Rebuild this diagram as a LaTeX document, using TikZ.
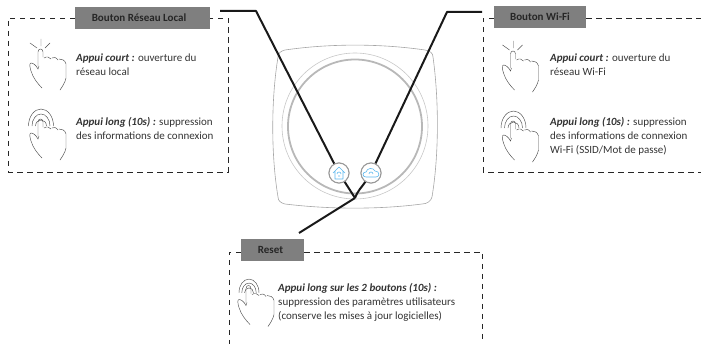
\documentclass[tikz,border=0pt]{standalone}
\usepackage{fontspec}
\setmainfont{Carlito}
\usetikzlibrary{calc}
\definecolor{bandgray}{HTML}{7F7F7F}
\definecolor{icoblue}{HTML}{5BB8EE}
\tikzset{
  frame/.style={draw=black!85,line width=0.7pt,dash pattern=on 5.5pt off 4.5pt},
  band/.style={fill=bandgray,draw=none,minimum height=22pt,inner sep=0pt,font=\bfseries\fontsize{11}{13}\selectfont,text=black!85},
  desc/.style={align=left,anchor=north west,inner sep=0pt,font=\fontsize{11}{14}\selectfont,text=black!80},
  lead/.style={draw=black!90,line width=2pt,line join=round},
  dev/.style={draw=black!35,line width=0.6pt},
  btn/.style={circle,draw=black!40,fill=white,line width=1pt,minimum size=20pt,inner sep=0pt},
  hnd/.style={draw=black!70,line width=0.45pt,line cap=round},
  pics/hand/.style={code={
    \draw[hnd] (-3,9) -- (-3,-5) .. controls (-3,-9) and (2,-9) .. (2,-5) -- (2,0);
    \draw[hnd] (3,1) .. controls (6,-1) and (8,0) .. (10,2) (11,1) .. controls (13,0) and (15,0) .. (17,3) (18,2) .. controls (21,2) and (24,3) .. (25,7) -- (25,21) .. controls (24,26) and (21,30) .. (19,33);
    \draw[hnd] (-2,9) -- (-3,12) .. controls (-5,8) and (-8,6) .. (-10,6) .. controls (-12,6) and (-11,11) .. (-10,14) .. controls (-8,21) and (-3,27) .. (1,31);
  }},
  pics/tap/.style={code={
    \draw[hnd] (0,-11) -- (0,-18) (-4,-9) -- (-11,-14) (4,-9) -- (9,-14);
    \pic {hand};
  }},
  pics/press/.style={code={
    \foreach \rx/\ry in {5.5/6,9/12,12.5/17}{\draw[hnd] (-\rx,-1) arc[start angle=-180,end angle=0,x radius=\rx,y radius=\ry];}
    \pic {hand};
  }}
}
\begin{document}
\begin{tikzpicture}[x=1pt,y=-1pt]
\useasboundingbox (0,0) rectangle (701,344);
% device
\draw[dev] (285,50) .. controls (330,43.5) and (380,43.5) .. (425,50) .. controls (430,51) and (433,53) .. (433,57)
  .. controls (439,100) and (439,155) .. (432,197) .. controls (431,201) and (427,204) .. (422,204)
  .. controls (380,209.5) and (330,209.5) .. (285,204) .. controls (281,203) and (278,201) .. (278,197)
  .. controls (271,155) and (271,100) .. (278,57) .. controls (278,53) and (281,51) .. (285,50) -- cycle;
\node[circle,draw=black!22,line width=0.6pt,minimum size=146pt,inner sep=0pt] (outerring) at (355,126) {};
\node[circle,draw=black!28,line width=1.8pt,minimum size=134pt,inner sep=0pt] (innerring) at (355,126.5) {};
% leaders
\coordinate (lstart) at (220,11);
\coordinate (lbend) at (256,11);
\coordinate (rstart) at (482,12);
\coordinate (rbend) at (447,12);
\coordinate (join) at (355,198);
\coordinate (rsend) at (299,233);
\node[btn] (bhome) at (339,173) {};
\node[btn] (bwifi) at (371,173) {};
\draw[lead] (lstart) -- (lbend) -- (bhome);
\draw[lead] (rstart) -- (rbend) -- (bwifi);
\draw[lead] (bhome) -- (join);
\draw[lead] (bwifi) .. controls (362,187) and (358,190) .. (join);
\draw[lead] (join) -- (rsend);
\node[btn] at (bhome) {};
\node[btn] at (bwifi) {};
% button icons
\draw[icoblue,line width=0.6pt,line join=round] (333,173) -- (339,167) -- (345,173) (335,171) -- (335,179) -- (343,179) -- (343,171);
\draw[icoblue,line width=0.6pt] (337,174) arc[start angle=-180,end angle=0,radius=2] (338,176) -- (340,176);
\draw[icoblue,line width=0.6pt] (366,177) .. controls (362,177) and (362,172) .. (366,172) .. controls (367,168) and (373,167) .. (375,171) .. controls (380,171) and (380,177) .. (376,177) -- cycle;
\draw[icoblue,line width=0.6pt] (369,174) arc[start angle=-180,end angle=0,radius=2];
% frames
\draw[frame] (75,18) -- (8,18) -- (8,172) -- (228,172) -- (228,18) -- (210,18);
\draw[frame] (494,18) -- (483,18) -- (483,172) -- (701,172);
\draw[frame] (586,18) -- (701,18);
\draw[frame] (241,252) -- (229,252) -- (229,344);
\draw[frame] (304,252) -- (482,252) -- (482,344);
\node[band,minimum width=135pt] (tl) at (142.5,18) {\hspace*{-7pt}Bouton Réseau Local};
\node[band,minimum width=92pt] (tr) at (540,17) {Bouton Wi-Fi};
\node[band,minimum width=63pt] (tb) at (272.5,250) {\hspace*{-4pt}Reset};
% hands
\pic at (41,57) {tap};
\pic at (41,127) {press};
\pic at (513.5,59) {tap};
\pic at (513.5,129) {press};
\pic[scale=0.8] at (249,293.5) {press};
% text
\node[desc] (t1) at (76,53.5) {\textbf{\textit{Appui court :}} ouverture du\\réseau local};
\node[desc] (t2) at (76,117) {\textbf{\textit{Appui long (10s) :}} suppression\\des informations de connexion};
\node[desc] (t3) at (550,53.5) {\textbf{\textit{Appui court :}} ouverture du\\réseau Wi-Fi};
\node[desc] (t4) at (550,117) {\textbf{\textit{Appui long (10s) :}} suppression\\des informations de connexion\\Wi-Fi (SSID/Mot de passe)};
\node[desc] (t5) at (278,283) {\textbf{\textit{Appui long sur les 2 boutons (10s) :}}\\suppression des paramètres utilisateurs\\(conserve les mises à jour logicielles)};
\end{tikzpicture}
\end{document}
